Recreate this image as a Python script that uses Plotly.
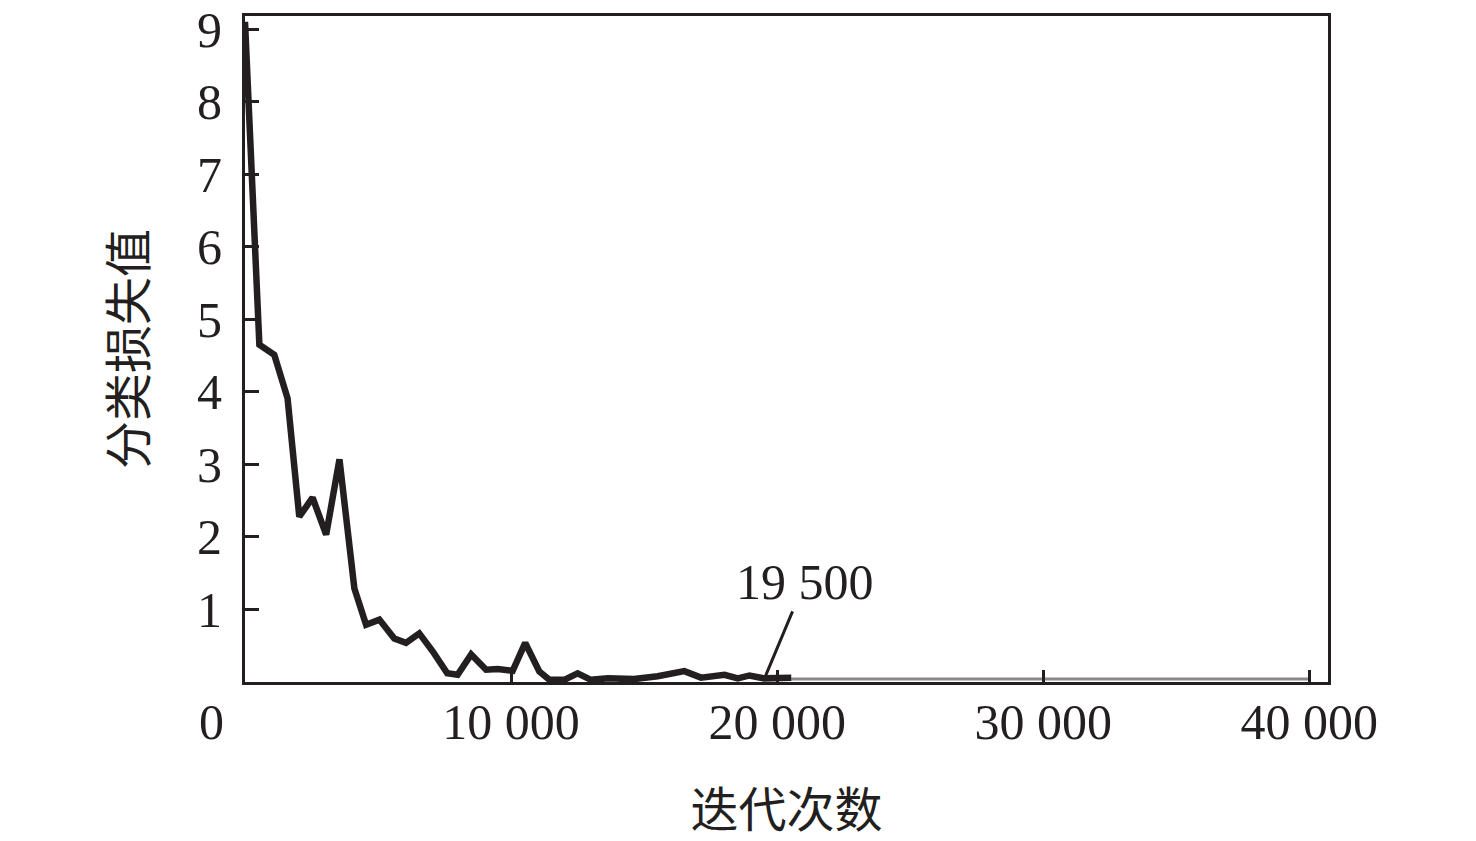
import plotly.graph_objects as go

# Main loss curve (iteration, classification loss)
iterations = [0, 60, 150, 250, 350, 540, 1100, 1600, 2040, 2540, 3050, 3550, 4110, 4550,
              5050, 5610, 6050, 6550, 7060, 7600, 7990, 8500, 9060, 9500, 10060, 10530,
              11060, 11440, 12000, 12500, 13000, 13640, 14620, 15510, 16510, 17140,
              18020, 18520, 18960, 19510, 20530]
loss = [9.1, 8.6, 7.6, 6.9, 5.9, 4.65, 4.51, 3.91, 2.28, 2.54, 2.03, 3.07, 1.29, 0.79,
        0.86, 0.60, 0.54, 0.67, 0.42, 0.12, 0.10, 0.38, 0.17, 0.18, 0.155, 0.54,
        0.145, 0.03, 0.03, 0.12, 0.03, 0.05, 0.04, 0.08, 0.15, 0.06,
        0.10, 0.05, 0.09, 0.05, 0.06]

# Flat tail of the curve
tail_iterations = [20530, 30000, 40000]
tail_loss = [0.04, 0.04, 0.04]

x_ticks = [10000, 20000, 30000, 40000]
x_tick_labels = ["10 000", "20 000", "30 000", "40 000"]
y_ticks = [1, 2, 3, 4, 5, 6, 7, 8, 9]
y_tick_labels = ["1", "2", "3", "4", "5", "6", "7", "8", "9"]

annot_x = 19500
annot_y = 0.03
annot_text = "19 500"

x_title = "迭代次数"
y_title = "分类损失值"

ink = "#231f20"
num_font = "Liberation Serif, Times New Roman, serif"
cjk_font = "Noto Sans CJK SC"

fig = go.Figure()
fig.add_trace(go.Scatter(x=tail_iterations, y=tail_loss, mode="lines",
                         line=dict(color="#8a8a8a", width=3), showlegend=False))
fig.add_trace(go.Scatter(x=iterations, y=loss, mode="lines",
                         line=dict(color=ink, width=6.5), showlegend=False))

fig.update_layout(
    width=1476, height=841,
    margin=dict(l=237, r=156, t=8, b=167),
    paper_bgcolor="white", plot_bgcolor="white",
    font=dict(family=num_font, size=50, color=ink),
)

fig.update_xaxes(
    range=[0, 40700], showgrid=False, zeroline=False, automargin=False,
    showline=True, linecolor=ink, linewidth=3, mirror=True,
    tickmode="array", tickvals=x_ticks, ticktext=x_tick_labels,
    ticks="inside", ticklen=12, tickwidth=3, tickcolor=ink,
    ticklabelstandoff=-6, ticklabeloverflow="allow",
    tickfont=dict(family=num_font, size=50, color=ink),
    title=dict(text=x_title, font=dict(family=cjk_font, size=48, color=ink), standoff=45),
)
fig.update_yaxes(
    range=[0, 9.18], showgrid=False, zeroline=False, automargin=False,
    showline=True, linecolor=ink, linewidth=3, mirror=True,
    tickmode="array", tickvals=y_ticks, ticktext=y_tick_labels,
    ticks="inside", ticklen=14, tickwidth=3, tickcolor=ink,
    ticklabelstandoff=10, ticklabeloverflow="allow",
    tickfont=dict(family=num_font, size=50, color=ink),
    title=dict(text=y_title, font=dict(family=cjk_font, size=48, color=ink), standoff=36),
)

# Origin label "0"
fig.add_annotation(x=0, y=0, xref="x", yref="y", text="0", showarrow=False,
                   xanchor="center", yanchor="top", xshift=-34, yshift=-10,
                   font=dict(family=num_font, size=50, color=ink))

# 19 500 callout
fig.add_annotation(x=annot_x, y=annot_y, xref="x", yref="y", text=annot_text,
                   showarrow=True, arrowhead=0, arrowwidth=3, arrowcolor=ink,
                   ax=41, ay=-98, font=dict(family=num_font, size=50, color=ink))

fig.write_html("out.html")
